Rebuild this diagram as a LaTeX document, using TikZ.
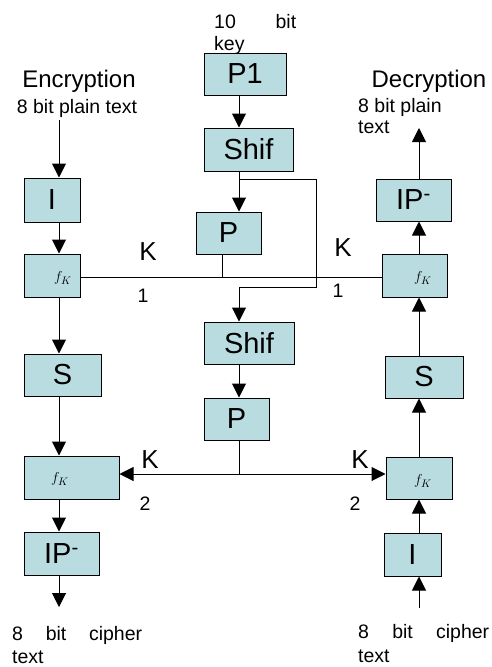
\documentclass[tikz,border=0pt]{standalone}
\usepackage{fontspec}
\setmainfont{Liberation Sans}
\usetikzlibrary{arrows.meta, positioning, calc}
\definecolor{boxblue}{HTML}{B9DCE1}

\begin{document}
\begin{tikzpicture}[x=1pt, y=-1pt,
    blk/.style={draw=black, line width=1pt, fill=boxblue, inner sep=0pt, font=\fontsize{29}{31}\selectfont},
    arr/.style={line width=1pt, -{Triangle[length=14pt,width=14pt]}},
    ln/.style={line width=1pt},
    fklbl/.style={inner sep=0pt, font=\fontsize{15}{15}\selectfont},
    ttl/.style={inner sep=0pt, anchor=base, font=\fontsize{24}{26}\selectfont},
    sub/.style={inner sep=0pt, anchor=base, font=\fontsize{19.5}{21}\selectfont},
    kk/.style={inner sep=0pt, anchor=base, font=\fontsize{26}{28}\selectfont}]
    \useasboundingbox (0,0) rectangle (491,667);
    % Texts
    \node[sub, anchor=base west] (keya) at (214,28) {\makebox[82pt][s]{10 bit}};
    \node[sub, anchor=base west] (keyb) at (214,50) {key};
    \node[ttl] (enc) at (79,87) {Encryption};
    \node[sub] (encin) at (77,113) {8 bit plain text};
    \node[ttl] (dec) at (429,87) {Decryption};
    \node[sub, anchor=base west] (decouta) at (358,112) {8 bit plain};
    \node[sub, anchor=base west] (decoutb) at (358,133) {text};
    \node[sub, anchor=base west] (encouta) at (12,640) {\makebox[130pt][s]{8 bit cipher}};
    \node[sub, anchor=base west] (encoutb) at (12,663) {text};
    \node[sub, anchor=base west] (decina) at (358,638) {\makebox[131pt][s]{8 bit cipher}};
    \node[sub, anchor=base west] (decinb) at (358,662) {text};
    % Key generation
    \node[blk, minimum width=82pt, minimum height=42pt] (p1) at (245,74) {P1};
    \node[blk, minimum width=89pt, minimum height=43pt] (shift1) at (248.5,149.5) {Shif};
    \node[blk, minimum width=65pt, minimum height=42pt] (p8a) at (228.5,233) {P};
    \node[blk, minimum width=90pt, minimum height=42pt] (shift2) at (249,343) {Shif};
    \node[blk, minimum width=65pt, minimum height=42pt] (p8b) at (236.5,419) {P};
    % Encryption
    \node[blk, minimum width=56pt, minimum height=44pt] (ipL) at (52,200) {I};
    \node[blk, minimum width=56pt, minimum height=43pt] (fkL1) at (52,275.5) {};
    \node[blk, minimum width=77pt, minimum height=42pt] (sL) at (62.5,375) {S};
    \node[blk, minimum width=95pt, minimum height=43pt] (fkL2) at (71.5,477.5) {};
    \node[blk, minimum width=75pt, minimum height=43pt] (ipinvL) at (61.5,553.5) {IP\textsuperscript{-}};
    % Decryption
    \node[blk, minimum width=75pt, minimum height=42pt] (ipinvR) at (413.5,200) {IP\textsuperscript{-}};
    \node[blk, minimum width=65pt, minimum height=43pt] (fkR1) at (414.5,275.5) {};
    \node[blk, minimum width=78pt, minimum height=42pt] (sR) at (424,377) {S};
    \node[blk, minimum width=66pt, minimum height=42pt] (fkR2) at (419,478) {};
    \node[blk, minimum width=57pt, minimum height=43pt] (ipR) at (412.5,554.5) {I};
    % f_K labels
    \node[fklbl] (fkL1t) at (63,278) {$f_K$};
    \node[fklbl] (fkL2t) at (60,479) {$f_K$};
    \node[fklbl] (fkR1t) at (423,278) {$f_K$};
    \node[fklbl] (fkR2t) at (423,481) {$f_K$};
    % Key labels
    \node[kk] (k1l) at (148,260) {K};
    \node[sub] (k1ln) at (143,302) {1};
    \node[kk] (k1r) at (343,256) {K};
    \node[sub] (k1rn) at (338,297) {1};
    \node[kk] (k2l) at (150,468) {K};
    \node[sub] (k2ln) at (145,510) {2};
    \node[kk] (k2r) at (360,468) {K};
    \node[sub] (k2rn) at (355,510) {2};
    % Left column arrows
    \coordinate (inL) at (59,120);
    \coordinate (outL) at (59,607);
    \draw[arr] (inL) -- (inL |- ipL.north);
    \foreach \a/\b in {ipL/fkL1, fkL1/sL, sL/fkL2, fkL2/ipinvL}
        \draw[arr] (\a.south -| inL) -- (\b.north -| inL);
    \draw[arr] (ipinvL.south -| inL) -- (outL);
    % Right column arrows
    \coordinate (inR) at (419,608);
    \coordinate (outR) at (419,128);
    \draw[arr] (inR) -- (inR |- ipR.south);
    \foreach \a/\b in {ipR/fkR2, fkR2/sR, sR/fkR1, fkR1/ipinvR}
        \draw[arr] (\a.north -| inR) -- (\b.south -| inR);
    \draw[arr] (ipinvR.north -| inR) -- (outR);
    % Key schedule
    \coordinate (km) at (239,0);
    \coordinate (lp) at (316,179);
    \coordinate (lq) at (239,287);
    \draw[arr] (p1.south -| km) -- (shift1.north -| km);
    \draw[arr] (shift1.south -| km) -- (p8a.north -| km);
    \draw[arr] (shift1.south -| km) |- (lp) |- (lq) -- (shift2.north -| km);
    \draw[arr] (shift2.south -| km) -- (p8b.north -| km);
    % K1 and K2 lines
    \coordinate (kl) at (222,277);
    \coordinate (kj) at (239,474);
    \draw[ln] (fkL1.east |- kl) -- (fkR1.west |- kl);
    \draw[ln] (p8a.south -| kl) -- (kl);
    \draw[ln] (p8b.south -| kj) -- (kj);
    \draw[arr] (kj) -- (fkL2.east |- kj);
    \draw[arr] (kj) -- (fkR2.west |- kj);
\end{tikzpicture}
\end{document}
